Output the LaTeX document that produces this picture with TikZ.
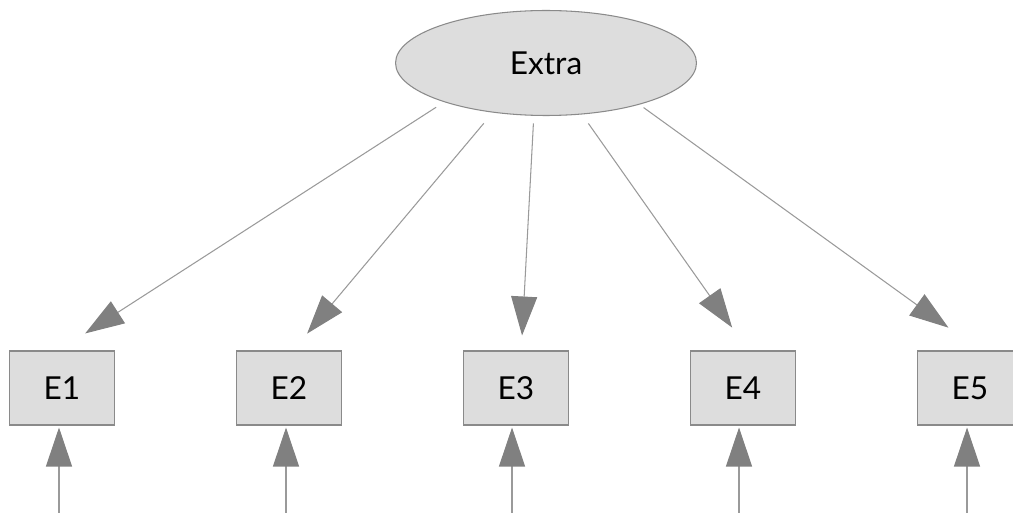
\documentclass[tikz,border=0pt]{standalone}
\usepackage{fontspec}
\setmainfont{Lato}
\usetikzlibrary{shapes.geometric,arrows.meta}

\definecolor{shapefill}{HTML}{DDDDDD}
\definecolor{shapeline}{HTML}{8A8A8A}
\definecolor{loadline}{HTML}{9A9A9A}
\definecolor{loadhead}{HTML}{808080}

\tikzset{
  latent/.style={ellipse, draw=shapeline, fill=shapefill, line width=0.6pt,
    minimum width=6.02cm, minimum height=2.1cm, inner sep=0pt,
    font=\fontsize{18}{22}\selectfont},
  manifest/.style={rectangle, draw=shapeline, fill=shapefill, line width=0.6pt,
    minimum width=2.1cm, minimum height=1.48cm, inner sep=0pt,
    font=\fontsize{18}{22}\selectfont},
  load/.style={draw=loadline, line width=0.6pt,
    -{Triangle[length=0.78cm, width=0.52cm, color=loadhead, fill=loadhead]}}
}

\begin{document}
\begin{tikzpicture}[x=0.02cm, y=-0.02cm]
\useasboundingbox (0,0) rectangle (1013,513);

\node[latent] (extra) at (546,63) {Extra};

\node[manifest] (e1) at (62,388) {E1};
\node[manifest] (e2) at (289,388) {E2};
\node[manifest] (e3) at (516,388) {E3};
\node[manifest] (e4) at (743,388) {E4};
\node[manifest] (e5) at (970,388) {E5};

% loadings
\path[load, shorten <=0.19cm, shorten >=0.63cm] (extra.201) -- (e1.95);
\path[load, shorten <=0.28cm, shorten >=0.44cm] (extra.223.5) -- (e2.84);
\path[load, shorten <=0.15cm, shorten >=0.30cm] (extra.257.6) -- (e3.82);
\path[load, shorten <=0.22cm, shorten >=0.56cm] (extra.305.7) -- (e4.82);
\path[load, shorten <=0.10cm, shorten >=0.78cm] (extra.336.4) -- (e5.75);

% error terms
\coordinate (u1) at (59,513);
\coordinate (u2) at (286,513);
\coordinate (u3) at (512,513);
\coordinate (u4) at (739,513);
\coordinate (u5) at (967,513);
\path[load, shorten >=0.04cm] (u1) -- (u1 |- e1.south);
\path[load, shorten >=0.04cm] (u2) -- (u2 |- e2.south);
\path[load, shorten >=0.04cm] (u3) -- (u3 |- e3.south);
\path[load, shorten >=0.04cm] (u4) -- (u4 |- e4.south);
\path[load, shorten >=0.04cm] (u5) -- (u5 |- e5.south);
\end{tikzpicture}
\end{document}
